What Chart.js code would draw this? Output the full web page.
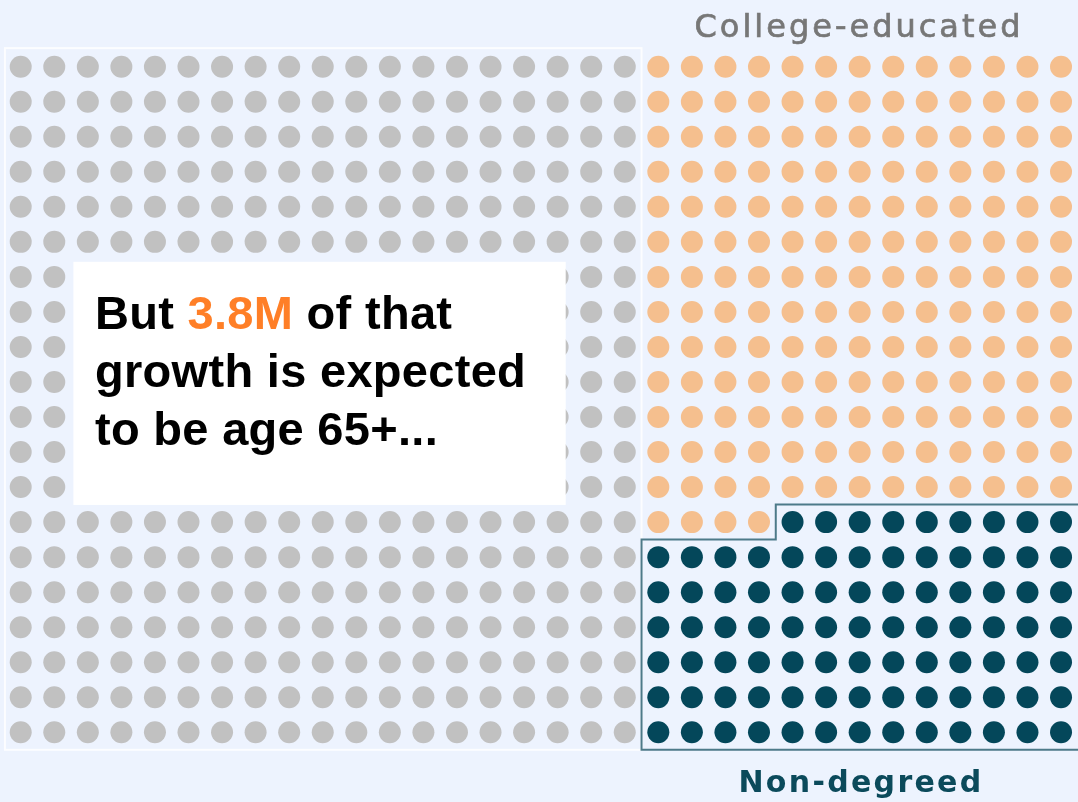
<!DOCTYPE html>
<html>
<head>
<meta charset="utf-8">
<title>Growth by education</title>
<script src="https://cdn.jsdelivr.net/npm/chart.js@4.4.1/dist/chart.umd.min.js"></script>
<style>
  html, body { margin: 0; padding: 0; background: #edf3fe; }
  #wrap { width: 1078px; height: 802px; position: relative; }
</style>
</head>
<body>
<div id="wrap"><canvas id="dots"></canvas></div>
<script>
// one dot per unit of growth
const categories = ['Other growth', 'College-educated', 'Non-degreed'];
const dotCounts = [380, 173, 87];
const dotColors = ['#c1c1c1', '#f5bf8e', '#04475a'];

// grid shape: left block holds the first group, right block the other two
const gridRows = 20;
const leftCols = 19;
const rightCols = 13;

// callout text, split into runs so the number can be coloured
const noteLines = [
  [['But ', '#000'], ['3.8M', '#ff7f27'], [' of that', '#000']],
  [['growth is expected', '#000']],
  [['to be age 65+...', '#000']]
];

// fill the left block first, then the right block row by row
function buildDots() {
  const sets = categories.map(() => []);
  for (let r = 0; r < gridRows; r++) {
    for (let c = 0; c < leftCols; c++) {
      sets[0].push({ x: c, y: r });
    }
  }
  let idx = 0;
  for (let r = 0; r < gridRows; r++) {
    for (let c = 0; c < rightCols; c++) {
      let cat = idx < dotCounts[1] ? 1 : 2;
      sets[cat].push({ x: leftCols + c, y: r });
      idx++;
    }
  }
  return sets;
}

const dotSets = buildDots();

// frames, callout box and labels drawn on top of the dots
const overlay = {
  id: 'overlay',
  afterDatasetsDraw(chart) {
    const ctx = chart.ctx;
    const xs = chart.scales.x, ys = chart.scales.y;
    const px = v => xs.getPixelForValue(v);
    const py = v => ys.getPixelForValue(v);

    ctx.save();

    // faint frame round the grey block
    ctx.strokeStyle = 'rgba(255,255,255,0.8)';
    ctx.lineWidth = 2;
    ctx.strokeRect(px(-0.47), py(-0.53), px(leftCols - 0.5) - px(-0.47), py(gridRows - 0.5) - py(-0.53));

    // stepped outline round the non-degreed dots
    const lastOrangeRow = Math.floor(dotCounts[1] / rightCols);
    const stepCol = leftCols + dotCounts[1] % rightCols;
    ctx.strokeStyle = '#4d7a89';
    ctx.lineWidth = 2;
    ctx.beginPath();
    ctx.moveTo(px(leftCols + rightCols + 1), py(lastOrangeRow - 0.5));
    ctx.lineTo(px(stepCol - 0.5), py(lastOrangeRow - 0.5));
    ctx.lineTo(px(stepCol - 0.5), py(lastOrangeRow + 0.5));
    ctx.lineTo(px(leftCols - 0.5), py(lastOrangeRow + 0.5));
    ctx.lineTo(px(leftCols - 0.5), py(gridRows - 0.5));
    ctx.lineTo(px(leftCols + rightCols + 1), py(gridRows - 0.5));
    ctx.stroke();

    // white callout box
    ctx.fillStyle = '#ffffff';
    const bx = px(1.57), by = py(5.57);
    ctx.fillRect(bx, by, px(16.24) - bx, py(12.51) - by);

    ctx.font = 'bold 47px "Liberation Sans", Arial, sans-serif';
    ctx.letterSpacing = '0.3px';
    ctx.textBaseline = 'alphabetic';
    ctx.textAlign = 'left';
    noteLines.forEach((runs, i) => {
      let x = 95;
      const y = 329 + i * 58;
      runs.forEach(([txt, col]) => {
        ctx.fillStyle = col;
        ctx.fillText(txt, x, y);
        x += ctx.measureText(txt).width;
      });
    });

    // group labels
    ctx.textAlign = 'center';
    ctx.font = '32px "DejaVu Sans", sans-serif';
    ctx.letterSpacing = '3px';
    ctx.fillStyle = '#777777';
    ctx.strokeStyle = '#777777';
    ctx.lineWidth = 0.7;
    ctx.fillText(categories[1], 859, 37);
    ctx.strokeText(categories[1], 859, 37);

    ctx.font = 'bold 30px "DejaVu Sans", sans-serif';
    ctx.letterSpacing = '2.3px';
    ctx.fillStyle = '#0b4a5b';
    ctx.fillText(categories[2], 861, 792);

    ctx.restore();
  }
};

new Chart(document.getElementById('dots'), {
  type: 'scatter',
  data: {
    datasets: categories.map((name, i) => ({
      label: name,
      data: dotSets[i],
      backgroundColor: dotColors[i],
      borderWidth: 0,
      pointRadius: 11,
      pointHoverRadius: 11
    }))
  },
  options: {
    responsive: true,
    maintainAspectRatio: false,
    animation: false,
    layout: { padding: 0, autoPadding: false },
    plugins: {
      legend: { display: false },
      tooltip: { enabled: false }
    },
    scales: {
      x: { type: 'linear', min: -0.617, max: 31.506, display: false },
      y: { type: 'linear', min: -1.904, max: 20.99, reverse: true, display: false }
    }
  },
  plugins: [overlay]
});
</script>
</body>
</html>
